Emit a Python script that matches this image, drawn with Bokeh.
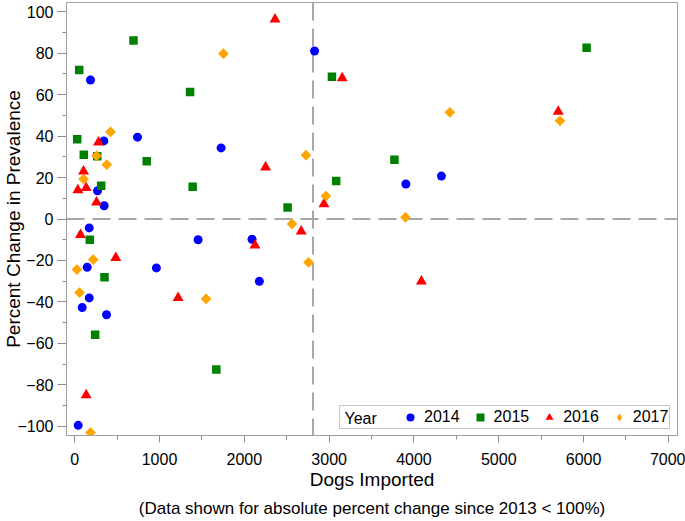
from bokeh.plotting import figure
from bokeh.models import FixedTicker, Span, Legend, LegendItem, Title, Range1d, Label
from bokeh.embed import file_html
from bokeh.resources import INLINE
import math

# ---- data ----
x2014 = [186, 343, 740, 1726, 269, 347, 171, 1455, 2091, 147, 963, 171, 88, 375, 41, 2828, 2177, 3905, 4324]
y2014 = [67.1, 37.7, 39.5, 34.3, 13.6, 6.4, -4.3, -10.0, -9.8, -23.3, -23.6, -38.1, -42.7, -46.2, -99.6, 81.1, -30.1, 16.9, 20.7]

x2015 = [693, 53, 1360, 29, 107, 265, 849, 312, 1391, 178, 351, 241, 1670, 3033, 3083, 2510, 3770, 6036]
y2015 = [86.2, 71.9, 61.3, 38.5, 31.0, 30.3, 27.9, 16.0, 15.6, -10.0, -28.1, -55.9, -72.6, 68.7, 18.3, 5.6, 28.6, 82.7]

x2016 = [2362, 3154, 280, 2251, 104, 37, 135, 257, 2939, 68, 2671, 2126, 484, 1219, 4088, 135, 5702]
y2016 = [96.4, 68.0, 37.0, 25.0, 23.0, 14.0, 15.0, 8.0, 7.2, -7.6, -6.0, -12.7, -18.7, -38.0, -30.1, -85.0, 51.8]

x2017 = [1753, 422, 257, 378, 104, 2727, 2962, 2562, 218, 25, 57, 1549, 2757, 3900, 186, 4423, 5722]
y2017 = [79.8, 42.1, 30.5, 26.2, 19.3, 30.8, 11.1, -2.4, -19.6, -24.4, -35.5, -38.5, -20.9, 0.8, -103.1, 51.5, 47.4]

years = ["2014", "2015", "2016", "2017"]
legend_title = "Year"
x_ticks = [0, 1000, 2000, 3000, 4000, 5000, 6000, 7000]
x_minor = [500, 1500, 2500, 3500, 4500, 5500, 6500]
y_ticks = [-100, -80, -60, -40, -20, 0, 20, 40, 60, 80, 100]
y_minor = [-90, -70, -50, -30, -10, 10, 30, 50, 70, 90]
ref_x = 2810
ref_y = 0

FONT = "Liberation Sans"
GRAY = "#a0a0a0"

p = figure(width=685, height=521, output_backend="svg", toolbar_location=None,
           x_range=Range1d(-97, 7108), y_range=Range1d(-104.5, 104.5),
           min_border_left=65, min_border_right=8, min_border_top=2, min_border_bottom=86,
           background_fill_color="white", border_fill_color="white")
p.grid.visible = False
p.outline_line_color = GRAY
p.outline_line_width = 1

# reference lines
for loc, dim in [(ref_y, "width"), (ref_x, "height")]:
    p.add_layout(Span(location=loc, dimension=dim, line_color="#a8a8a8", line_width=2,
                      line_dash="18 8", level="underlay"))

r1 = p.scatter(x2014, y2014, marker="circle", size=9, fill_color="#0000ff", line_color=None)
r2 = p.scatter(x2015, y2015, marker="square", size=8.5, fill_color="#008000", line_color=None)
r3 = p.scatter(x2016, y2016, marker="triangle", size=11, fill_color="#ff0000", line_color=None)
# 2017: narrow diamond (legend key) under a square rotated 45 degrees (equal-sided diamond)
r4_key = p.scatter(x2017, y2017, marker="diamond", size=10, fill_color="#ffa500", line_color=None)
r4 = p.scatter(x2017, y2017, marker="square", size=7.6, angle=math.pi / 4,
               fill_color="#ffa500", line_color=None)

# legend-only spacer (no data) that leaves room for the "Year" caption
spacer = p.scatter([], [], marker="circle", size=1, fill_alpha=0, line_alpha=0)

# axes
p.xaxis.ticker = FixedTicker(ticks=x_ticks, minor_ticks=x_minor)
p.yaxis.ticker = FixedTicker(ticks=y_ticks, minor_ticks=y_minor)
for ax in (p.xaxis, p.yaxis):
    ax.axis_line_color = GRAY
    ax.major_tick_line_color = "#8c8c8c"
    ax.minor_tick_line_color = "#8c8c8c"
    ax.major_tick_in = 0
    ax.minor_tick_in = 0
    ax.major_label_text_font = FONT
    ax.major_label_text_font_size = "16px"
    ax.major_label_text_color = "black"
    ax.axis_label_text_font = FONT
    ax.axis_label_text_font_size = "19px"
    ax.axis_label_text_font_style = "normal"
    ax.axis_label_text_color = "black"

p.xaxis.major_tick_out = 7
p.xaxis.minor_tick_out = 4
p.xaxis.major_label_standoff = 10
p.xaxis.axis_label = "Dogs Imported"
p.xaxis.axis_label_standoff = 1

p.yaxis.major_tick_out = 9
p.yaxis.minor_tick_out = 4
p.yaxis.major_label_standoff = 4
p.yaxis.axis_label = "Percent Change in Prevalence"
p.yaxis.axis_label_standoff = -10

p.add_layout(Title(text="(Data shown for absolute percent change since 2013 < 100%)",
                   align="center", text_font=FONT, text_font_size="17px",
                   text_font_style="normal", text_color="black", standoff=8, offset=-4), "below")

legend = Legend(items=[LegendItem(label=" ", renderers=[spacer]),
                       LegendItem(label=years[0], renderers=[r1]),
                       LegendItem(label=years[1], renderers=[r2]),
                       LegendItem(label=years[2], renderers=[r3]),
                       LegendItem(label=years[3], renderers=[r4_key])],
                orientation="horizontal", location=(273, 6),
                label_text_font=FONT, label_text_font_size="16px", label_text_color="black",
                glyph_width=20, glyph_height=20, label_height=20, label_width=25,
                label_standoff=4, spacing=10, padding=1, margin=0,
                border_line_color="#8c8c8c", border_line_width=1,
                background_fill_alpha=0)
p.add_layout(legend, "center")
p.add_layout(Label(x=278, y=17, x_units="screen", y_units="screen", text=legend_title,
                   text_font=FONT, text_font_size="16px", text_baseline="middle",
                   text_align="left", text_color="black"))

open("out.html", "w").write(file_html(p, INLINE))
